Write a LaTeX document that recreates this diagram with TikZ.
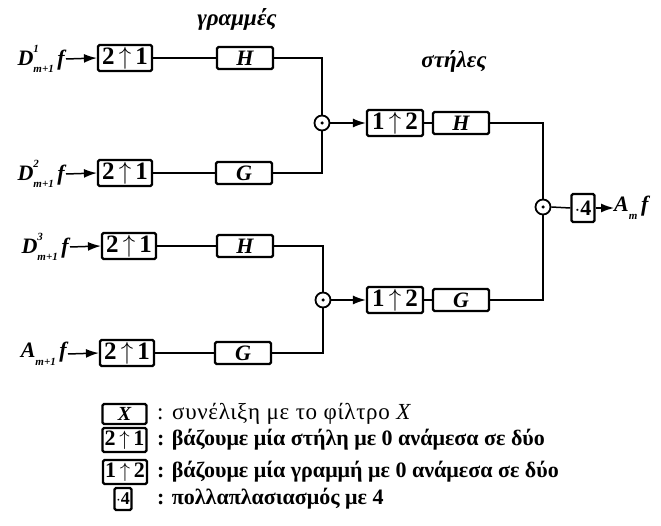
\documentclass[tikz,border=0pt]{standalone}
\usepackage{fontspec}
\setmainfont{Liberation Serif}
\usetikzlibrary{arrows.meta}
\newcommand{\smallsz}{\fontsize{11}{11}\selectfont}
\newcommand{\dlab}[1]{D\rlap{\raisebox{0.58em}{\smallsz #1}}\raisebox{-0.35em}{\smallsz m+1}\,f}
\newcommand{\upa}{$\uparrow$}
\begin{document}
\begin{tikzpicture}[x=1pt,y=-1pt,
  box/.style={draw, line width=2.2pt, rounded corners=1.5pt, inner sep=0pt},
  upbox/.style={box, minimum width=54pt, minimum height=26pt, font=\fontsize{25}{25}\selectfont\bfseries},
  filt/.style={box, minimum width=56pt, minimum height=22pt, font=\fontsize{22}{22}\selectfont\bfseries\itshape},
  sum/.style={circle, draw, line width=1.8pt, minimum size=15pt, inner sep=0pt},
  dot/.style={circle, fill, inner sep=0pt, minimum size=3.5pt},
  wire/.style={line width=1.5pt},
  arr/.style={wire, -{Latex[length=13pt,width=9pt]}},
  lab/.style={font=\fontsize{22}{22}\selectfont\bfseries\itshape, inner sep=1pt},
  leg/.style={font=\fontsize{22}{22}\selectfont\bfseries, anchor=west, inner sep=0pt},
  title/.style={font=\fontsize{23}{23}\selectfont\bfseries\itshape},
]
\useasboundingbox (0,0) rectangle (661,526);

% titles
\node[title] (t1) at (237,19) {γραμμές};
\node[title] (t2) at (454,61) {στήλες};

% row 1
\node[lab, anchor=east] (l1) at (66,59) {\dlab{1}};
\node[upbox] (u1) at (125,58) {2\,\upa\,1};
\node[filt] (f1) at (245,58) {H};
% row 2
\node[lab, anchor=east] (l2) at (66,174) {\dlab{2}};
\node[upbox] (u2) at (125,173) {2\,\upa\,1};
\node[filt] (f2) at (244,173) {G};
% row 3
\node[lab, anchor=east] (l3) at (70,247) {\dlab{3}};
\node[upbox] (u3) at (129,246) {2\,\upa\,1};
\node[filt] (f3) at (245,246) {H};
% row 4
\node[lab, anchor=east] (l4) at (68,354) {A\raisebox{-0.35em}{\smallsz m+1}\,f};
\node[upbox] (u4) at (127,353) {2\,\upa\,1};
\node[filt] (f4) at (243,353) {G};

% sums
\node[sum] (s1) at (322,123) {};
\node[dot] at (s1) {};
\node[sum] (s3) at (323,300) {};
\node[dot] at (s3) {};
\node[sum] (s2) at (543,207) {};
\node[dot] at (s2) {};

% column stage
\node[upbox, minimum width=56pt] (c1) at (395,123) {1\,\upa\,2};
\node[filt] (g1) at (461,123) {H};
\node[upbox, minimum width=56pt] (c2) at (395,300) {1\,\upa\,2};
\node[filt] (g2) at (461,300) {G};

\node[box, minimum width=23pt, minimum height=28pt, font=\fontsize{22}{22}\selectfont\bfseries] (m4) at (583,208) {$\cdot$4};
\node[lab, anchor=west, inner sep=0pt] (out) at (614,208) {A\raisebox{-0.35em}{\smallsz m}\,f};

% connectors
\foreach \i in {1,2,3,4} {
  \draw[arr] (l\i.east) -- (u\i.west);
  \draw[wire] (u\i.east) -- (f\i.west);
}
\draw[wire] (f1.east) -| (s1.north);
\draw[wire] (f2.east) -| (s1.south);
\draw[wire] (f3.east) -| (s3.north);
\draw[wire] (f4.east) -| (s3.south);
\draw[arr] (s1.east) -- (c1.west);
\draw[arr] (s3.east) -- (c2.west);
\draw[wire] (c1.east) -- (g1.west);
\draw[wire] (c2.east) -- (g2.west);
\draw[wire] (g1.east) -| (s2.north);
\draw[wire] (g2.east) -| (s2.south);
\draw[wire] (s2.east) -- (m4.west);
\draw[arr] (m4.east) -- (out.west);

% legend
\node[box, minimum width=44pt, minimum height=20pt, font=\fontsize{20}{20}\selectfont\bfseries\itshape] (k1) at (124.5,414) {X};
\node[upbox, minimum width=44pt, minimum height=24pt, font=\fontsize{22}{22}\selectfont\bfseries] (k2) at (124.5,440) {2\,\upa\,1};
\node[upbox, minimum width=44pt, minimum height=24pt, font=\fontsize{22}{22}\selectfont\bfseries] (k3) at (125,472) {1\,\upa\,2};
\node[box, minimum width=17pt, minimum height=22pt, font=\fontsize{18}{18}\selectfont\bfseries] (k4) at (123,499) {$\cdot$4};
\node[leg, font=\fontsize{23}{23}\selectfont\addfontfeature{LetterSpace=3}] (d1) at (157,414) {: συνέλιξη με το φίλτρο \textit{X}};
\node[leg] (d2) at (157,440) {: βάζουμε μία στήλη με 0 ανάμεσα σε δύο};
\node[leg] (d3) at (157,472) {: βάζουμε μία γραμμή με 0 ανάμεσα σε δύο};
\node[leg] (d4) at (157,499) {: πολλαπλασιασμός με 4};
\end{tikzpicture}
\end{document}
